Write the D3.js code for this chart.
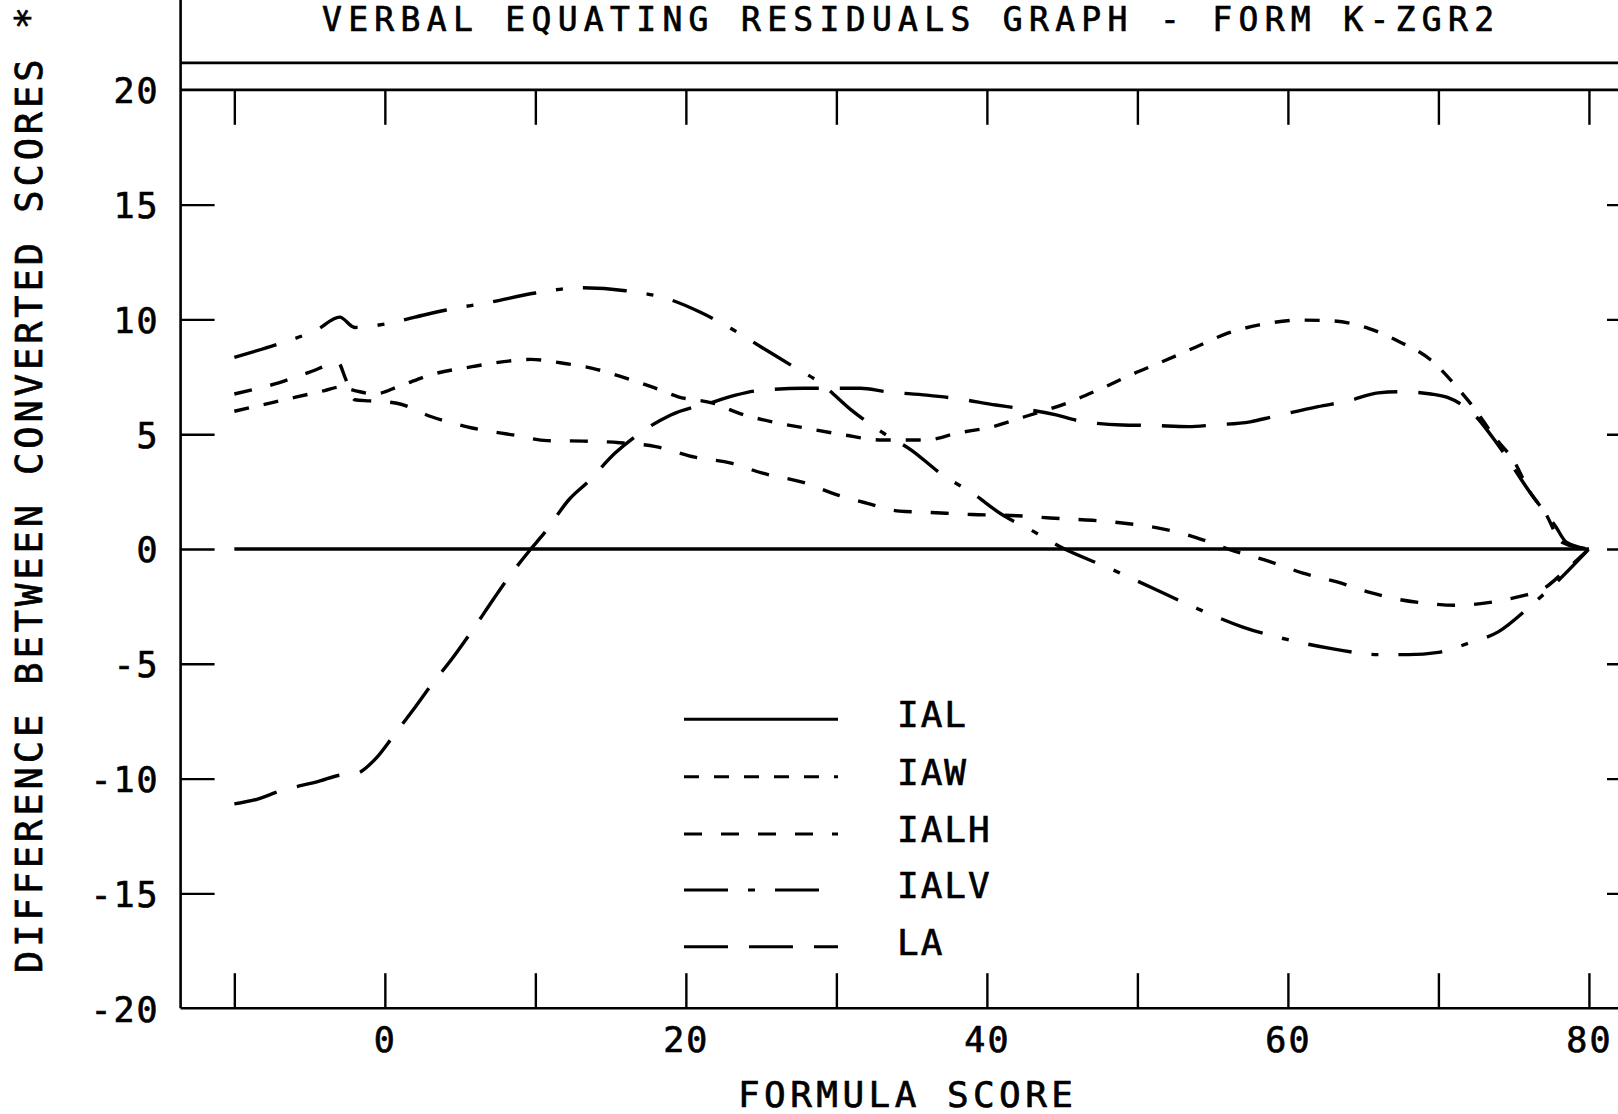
<!DOCTYPE html>
<html>
<head>
<meta charset="utf-8">
<script src="https://cdn.jsdelivr.net/npm/d3@7"></script>
<style>
  html, body { margin: 0; padding: 0; background: #fff; }
  svg { display: block; }
  text { font-family: "DejaVu Sans Mono", monospace; fill: #000; stroke: #000; stroke-width: 0.7px; }
</style>
</head>
<body>
<script>
// ---- Data: residuals (difference between converted scores) by formula score ----
const seriesNames = ["IAL", "IAW", "IALH", "IALV", "LA"];

const scoreIAL = [-10, 80];
const residIAL = [0, 0];

const scoreIAW = [-10, -8, -6, -4, -3, -2, -0.7, 1, 3, 5.8, 7.9, 9.7, 11.75, 13.8, 15.6, 17.7, 19.5, 21.8, 23.6, 26, 28, 30.5, 33, 36, 38, 40.4, 42.5, 45.3, 47.3, 49.8, 51.8, 53.9, 56, 58.1, 60.9, 62.9, 65.4, 67.4, 69.5, 71.2, 72.3, 73.7, 75.1, 76, 77.1, 78.2, 80];
const residIAW = [6.0, 6.3, 6.6, 6.9, 7.05, 6.9, 6.75, 7.1, 7.58, 7.94, 8.16, 8.26, 8.1, 7.87, 7.53, 7.07, 6.63, 6.35, 5.9, 5.5, 5.26, 4.97, 4.75, 4.75, 5.04, 5.33, 5.76, 6.35, 6.9, 7.65, 8.2, 8.8, 9.4, 9.76, 9.97, 9.94, 9.6, 9.03, 8.23, 7.07, 6.2, 4.9, 3.74, 2.57, 1.57, 0.3, 0];

const scoreIALH = [-10, -7, -5, -3.1, -2.6, -2, -1, 0.8, 3.1, 5.8, 8.5, 10.8, 13.2, 15.6, 18, 20.6, 23, 25.1, 27.8, 30.1, 32, 34.2, 36, 39, 42, 44.2, 47, 49, 51.5, 53.9, 56, 58.8, 61, 63.6, 65.5, 67.4, 69, 71.2, 73.7, 75.5, 76.8, 78.5, 80];
const residIALH = [6.75, 7.25, 7.7, 8.1, 7.4, 6.5, 6.45, 6.35, 5.76, 5.27, 4.97, 4.72, 4.7, 4.63, 4.46, 4.0, 3.74, 3.3, 2.9, 2.35, 2.0, 1.65, 1.6, 1.5, 1.45, 1.35, 1.25, 1.13, 0.9, 0.5, 0.0, -0.55, -1.05, -1.5, -1.9, -2.2, -2.35, -2.45, -2.3, -2.05, -1.8, -0.9, 0];

const scoreIALV = [-10, -7, -4.5, -3, -2, 0, 2, 4, 7, 10, 13, 16, 19, 21, 23, 25, 27, 29, 31, 33, 35, 37, 39, 41, 43, 45, 48, 51, 54, 57, 60, 63, 66, 68, 70, 72, 74, 76, 78, 80];
const residIALV = [8.35, 8.95, 9.55, 10.1, 9.65, 9.8, 10.1, 10.4, 10.75, 11.15, 11.38, 11.25, 10.85, 10.3, 9.6, 8.8, 8.0, 7.2, 6.05, 5.1, 4.3, 3.25, 2.45, 1.5, 0.8, 0.05, -0.8, -1.7, -2.6, -3.4, -3.95, -4.35, -4.6, -4.6, -4.5, -4.1, -3.6, -2.55, -1.35, 0];

const scoreLA = [-10, -8.5, -7, -4.3, -3, -2, -0.5, 0.5, 2, 3, 4.5, 5.7, 7.2, 8.1, 9.7, 10.6, 12.3, 13.5, 15.3, 16.5, 19, 21.8, 23.3, 24.8, 27.8, 31.6, 33.3, 36, 38, 40.6, 42, 44.6, 46, 49, 51, 53.4, 55, 57.5, 59, 62, 64, 66, 67.5, 69.5, 70.6, 72.3, 74, 76.1, 77.8, 78.5, 80];
const residLA = [-11.1, -10.9, -10.55, -10.1, -9.85, -9.8, -9.05, -8.2, -6.9, -6.0, -4.75, -3.65, -2.2, -1.35, 0, 0.7, 2.2, 2.93, 4.18, 4.83, 5.84, 6.4, 6.7, 6.9, 7.0, 7.0, 6.85, 6.7, 6.55, 6.27, 6.14, 5.84, 5.6, 5.4, 5.38, 5.33, 5.4, 5.54, 5.76, 6.2, 6.45, 6.8, 6.85, 6.75, 6.6, 5.9, 4.5, 2.45, 0.97, 0.3, 0];

// ---- Tick values and labels ----
const xTickMarks = [-10, 0, 10, 20, 30, 40, 50, 60, 70, 80];
const xTickLabels = [0, 20, 40, 60, 80];
const yTickMarks = [-15, -10, -5, 0, 5, 10, 15];
const yTickLabels = [-20, -15, -10, -5, 0, 5, 10, 15, 20];

const titleText = "VERBAL EQUATING RESIDUALS GRAPH - FORM K-ZGR2";
const xTitle = "FORMULA SCORE";
const yTitle = "DIFFERENCE BETWEEN CONVERTED SCORES *";

// ---- Layout ----
const W = 1618, H = 1114;
const plotLeft = 180.6, plotRight = 1641, plotTop = 89.8, plotBottom = 1008.2;

const svg = d3.select("body").append("svg")
  .attr("width", W).attr("height", H)
  .attr("viewBox", `0 0 ${W} ${H}`);

const x = d3.scaleLinear().domain([-13.57, 83.46]).range([plotLeft, plotRight]);
const y = d3.scaleLinear().domain([-20, 20]).range([plotBottom, plotTop]);

const ink = "#000";

// Frame: left axis running to the top edge, the header rule, the 20 and -20 rules
svg.append("line").attr("x1", plotLeft).attr("x2", plotLeft)
  .attr("y1", 0).attr("y2", plotBottom)
  .attr("stroke", ink).attr("stroke-width", 2.6);
svg.append("line").attr("x1", plotLeft).attr("x2", W)
  .attr("y1", y(21.17)).attr("y2", y(21.17))
  .attr("stroke", ink).attr("stroke-width", 2.8);
svg.append("line").attr("x1", plotLeft).attr("x2", W)
  .attr("y1", y(20)).attr("y2", y(20))
  .attr("stroke", ink).attr("stroke-width", 2.8);
svg.append("line").attr("x1", plotLeft).attr("x2", W)
  .attr("y1", y(-20)).attr("y2", y(-20))
  .attr("stroke", ink).attr("stroke-width", 2.4);

function styleTicks(g) {
  g.select(".domain").remove();
  g.selectAll(".tick line").attr("stroke", ink).attr("stroke-width", 2.4);
}

// Tick marks pointing into the plot on all four sides
svg.append("g").attr("transform", `translate(0,${y(20)})`)
  .call(d3.axisBottom(x).tickValues(xTickMarks).tickSize(35).tickFormat(""))
  .call(styleTicks);
svg.append("g").attr("transform", `translate(0,${y(-20)})`)
  .call(d3.axisTop(x).tickValues(xTickMarks).tickSize(35).tickFormat(""))
  .call(styleTicks);
svg.append("g").attr("transform", `translate(${plotLeft},0)`)
  .call(d3.axisRight(y).tickValues(yTickMarks).tickSize(34).tickFormat(""))
  .call(styleTicks);
svg.append("g").attr("transform", `translate(${plotRight},0)`)
  .call(d3.axisLeft(y).tickValues(yTickMarks).tickSize(34).tickFormat(""))
  .call(styleTicks);

// Tick labels
const yLab = svg.append("g").attr("transform", `translate(${plotLeft},0)`)
  .call(d3.axisLeft(y).tickValues(yTickLabels).tickSize(0).tickPadding(21)
    .tickFormat(d => String(d)));
yLab.select(".domain").remove();
yLab.selectAll("text")
  .attr("font-family", "DejaVu Sans Mono, monospace")
  .attr("font-size", 35).attr("dy", "0.37em")
  .style("letter-spacing", "2px").attr("fill", ink);

const xLab = svg.append("g").attr("transform", `translate(0,${y(-20)})`)
  .call(d3.axisBottom(x).tickValues(xTickLabels).tickSize(0).tickPadding(19)
    .tickFormat(d => String(d)));
xLab.select(".domain").remove();
xLab.selectAll("text")
  .attr("font-family", "DejaVu Sans Mono, monospace")
  .attr("font-size", 35).style("letter-spacing", "2px").attr("fill", ink);

// Titles
svg.append("text").attr("x", 908).attr("y", 31)
  .attr("text-anchor", "middle").attr("font-size", 33)
  .attr("textLength", 1172).attr("lengthAdjust", "spacing")
  .text(titleText);

svg.append("text").attr("x", 905.5).attr("y", 1106.7)
  .attr("text-anchor", "middle").attr("font-size", 36)
  .attr("textLength", 335).attr("lengthAdjust", "spacing")
  .text(xTitle);

svg.append("text")
  .attr("transform", "translate(41.5,973) rotate(-90)")
  .attr("text-anchor", "start").attr("font-size", 37)
  .attr("textLength", 966).attr("lengthAdjust", "spacing")
  .text(yTitle);

// ---- Residual curves ----
const dashes = {
  IAL: null,
  IAW: "15,15",
  IALH: "18,19",
  IALV: "44,20,7,20",
  LA: "44,21"
};

const series = [
  { name: "IAL", xs: scoreIAL, ys: residIAL },
  { name: "IAW", xs: scoreIAW, ys: residIAW },
  { name: "IALH", xs: scoreIALH, ys: residIALH },
  { name: "IALV", xs: scoreIALV, ys: residIALV },
  { name: "LA", xs: scoreLA, ys: residLA }
];

const line = d3.line()
  .x(d => x(d[0])).y(d => y(d[1]))
  .curve(d3.curveMonotoneX);

svg.append("g").selectAll("path")
  .data(series)
  .join("path")
  .attr("d", s => line(s.xs.map((v, i) => [v, s.ys[i]])))
  .attr("fill", "none")
  .attr("stroke", ink)
  .attr("stroke-width", 3.4)
  .attr("stroke-dasharray", s => dashes[s.name])
  .attr("stroke-linecap", "butt")
  .attr("stroke-linejoin", "round");

// ---- Legend ----
const legendRowsY = [719.3, 776.7, 834, 890, 946.7];
const legend = svg.append("g");
seriesNames.forEach((name, i) => {
  const ly = legendRowsY[i];
  legend.append("line")
    .attr("x1", 684).attr("x2", 838)
    .attr("y1", ly).attr("y2", ly)
    .attr("stroke", ink).attr("stroke-width", 3)
    .attr("stroke-dasharray", dashes[name]);
  legend.append("text")
    .attr("x", 897).attr("y", ly + 8)
    .attr("font-size", 36)
    .style("letter-spacing", "2px")
    .text(name);
});
</script>
</body>
</html>
